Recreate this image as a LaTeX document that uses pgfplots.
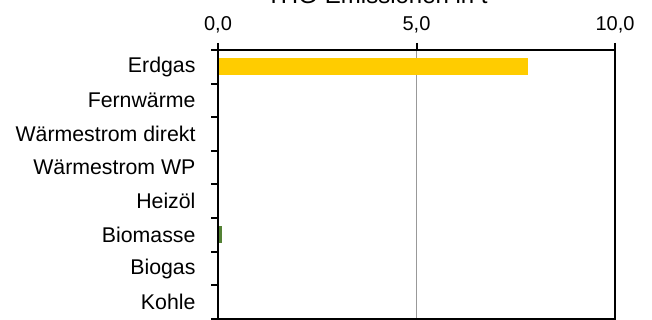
\documentclass[border=0pt]{standalone}
\usepackage{fontspec}
\setmainfont{Liberation Sans}
\usepackage{pgfplots}
\pgfplotsset{compat=1.18}
\definecolor{gelb}{HTML}{FFCC00}
\definecolor{gruen}{HTML}{548235}

\begin{document}
\begin{tikzpicture}[x=1pt,y=1pt]
\begin{axis}[
    name=ax,
    at={(218pt,1pt)}, anchor=south west,
    scale only axis,
    width=397pt, height=269pt,
    xbar, bar width=17pt, bar shift=0pt,
    xmin=0, xmax=10,
    ymin=0.5, ymax=8.5,
    xtick={0,5,10},
    xticklabel pos=upper,
    xtick pos=upper,
    ytick={1,...,8},
    yticklabels={Kohle,Biogas,Biomasse,Heizöl,Wärmestrom WP,Wärmestrom direkt,Fernwärme,Erdgas},
    ytick pos=left,
    minor ytick={0.5,1.5,...,8.5},
    major y tick style={draw=none},
    minor y tick style={draw=black, line width=2pt},
    x tick style={draw=black, line width=2pt},
    tick align=outside,
    major tick length=7pt, minor tick length=7pt,
    xmajorgrids, major x grid style={draw=gray!80, line width=1pt},
    axis line style={draw=black, line width=2pt},
    yticklabel style={font=\fontsize{21.3}{25}\selectfont, xshift=-12pt},
    xticklabel style={font=\fontsize{20}{24}\selectfont, yshift=6pt},
    /pgf/number format/.cd, use comma, fixed, fixed zerofill, precision=1, assume math mode=true,
]
\addplot[fill=gelb, draw=none] coordinates {(7.8,8)};
\addplot[fill=gruen, draw=none] coordinates {(0.1,3)};
\end{axis}
\draw[black, line width=2pt] (ax.south west) rectangle (ax.north east);
\node[anchor=base, font=\fontsize{24}{28}\selectfont] at (377,316.7) {THG-Emissionen in t};
\pgfresetboundingbox
\useasboundingbox (0,0) rectangle (652,320);
\end{tikzpicture}
\end{document}
